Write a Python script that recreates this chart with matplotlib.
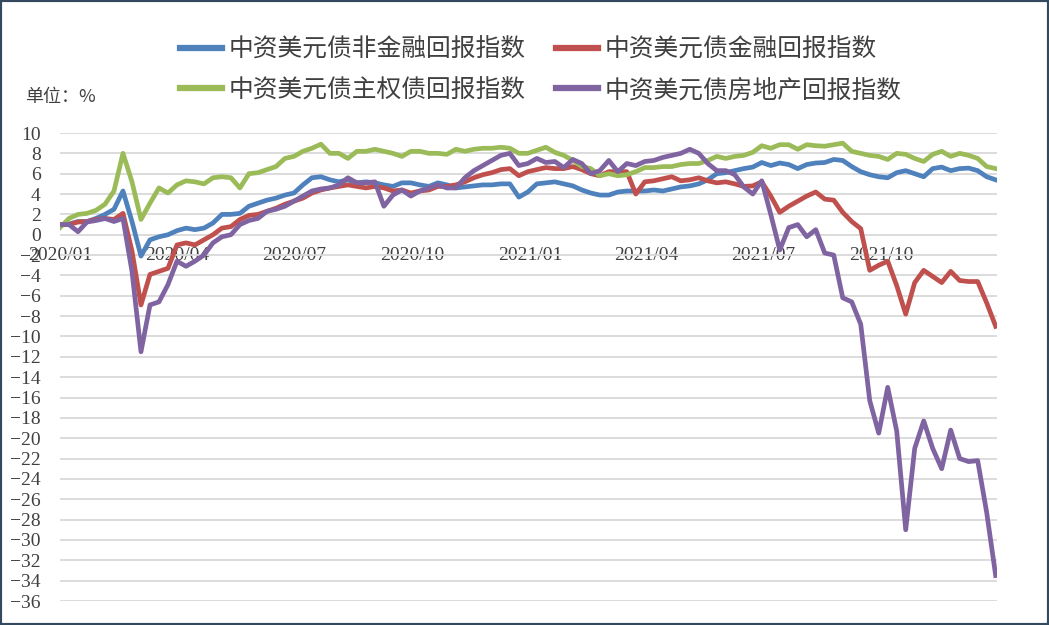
import matplotlib
matplotlib.use('agg')
import matplotlib.pyplot as plt
import matplotlib.dates as mdates
from matplotlib.patches import Rectangle
import pandas as pd

# weekly samples
dates = pd.date_range('2020-01-01', periods=105, freq='7D')

non_fin = [1.0, 1.05, 1.3, 1.3, 1.6, 2.0, 2.5, 4.3, 1.3, -2.1, -0.5, -0.2, 0.0, 0.4, 0.65, 0.5, 0.65, 1.15, 2.0, 2.0, 2.1, 2.8,
           3.1, 3.4, 3.6, 3.9, 4.1, 4.9, 5.6, 5.7, 5.4, 5.2, 5.4, 5.1, 5.2, 5.1, 4.9, 4.75, 5.1, 5.1, 4.9, 4.75, 5.1, 4.9, 4.6, 4.7, 4.8, 4.9, 4.9,
           5.0, 5.0, 3.7, 4.2, 5.0, 5.1, 5.2, 5.0, 4.8, 4.4, 4.1, 3.9, 3.9, 4.2, 4.3, 4.3, 4.3, 4.4, 4.3, 4.5, 4.7, 4.8, 5.0, 5.4, 6.0, 6.1, 6.3,
           6.5, 6.65, 7.1, 6.8, 7.05, 6.9, 6.5, 6.9, 7.05, 7.1, 7.4, 7.3, 6.7, 6.2, 5.9, 5.7, 5.6, 6.1, 6.3, 6.0, 5.7, 6.5, 6.65, 6.3, 6.5, 6.55, 6.3, 5.7, 5.4]

fin = [1.0, 1.0, 1.25, 1.3, 1.5, 1.6, 1.5, 2.1, -1.6, -6.9, -3.9, -3.6, -3.3, -1.0, -0.8, -1.0, -0.5, 0.0, 0.65, 0.8, 1.5, 1.9,
       2.0, 2.3, 2.6, 3.0, 3.3, 3.6, 4.1, 4.4, 4.6, 4.75, 4.9, 4.75, 4.6, 4.75, 4.6, 4.3, 4.4, 4.1, 4.3, 4.4, 4.75, 4.75, 4.9, 5.2, 5.6, 5.9, 6.1,
       6.4, 6.5, 5.8, 6.2, 6.4, 6.6, 6.5, 6.5, 6.7, 6.4, 6.0, 5.8, 6.2, 6.2, 6.2, 4.0, 5.2, 5.3, 5.5, 5.7, 5.3, 5.4, 5.6, 5.3, 5.1, 5.2, 5.0,
       4.75, 4.8, 5.2, 3.8, 2.2, 2.8, 3.3, 3.8, 4.2, 3.5, 3.4, 2.2, 1.3, 0.6, -3.5, -3.0, -2.6, -5.0, -7.8, -4.7, -3.5, -4.1, -4.7, -3.6, -4.5, -4.6, -4.6, -6.7, -9.0]

sovereign = [0.7, 1.6, 2.0, 2.1, 2.4, 3.0, 4.3, 8.0, 5.2, 1.5, 3.1, 4.6, 4.1, 4.9, 5.3, 5.2, 5.0, 5.6, 5.7, 5.6, 4.6, 6.0,
             6.1, 6.4, 6.7, 7.5, 7.7, 8.2, 8.5, 8.9, 8.0, 8.0, 7.5, 8.2, 8.2, 8.4, 8.2, 8.0, 7.7, 8.2, 8.2, 8.0, 8.0, 7.9, 8.4, 8.2, 8.4, 8.5, 8.5,
             8.6, 8.5, 8.0, 8.0, 8.3, 8.6, 8.1, 7.8, 7.3, 6.7, 6.5, 5.8, 6.0, 5.8, 5.9, 6.2, 6.6, 6.6, 6.7, 6.7, 6.9, 7.0, 7.0, 7.3, 7.7, 7.5, 7.7,
             7.8, 8.1, 8.75, 8.5, 8.85, 8.85, 8.4, 8.85, 8.75, 8.7, 8.85, 9.0, 8.2, 8.0, 7.8, 7.7, 7.4, 8.0, 7.9, 7.5, 7.2, 7.9, 8.2, 7.7, 8.0, 7.8, 7.5, 6.7, 6.5]

property_ = [1.0, 1.0, 0.3, 1.25, 1.4, 1.6, 1.3, 1.6, -3.6, -11.5, -6.9, -6.6, -4.9, -2.6, -3.1, -2.6, -2.0, -0.8, -0.2, 0.0, 1.0, 1.4,
             1.6, 2.3, 2.5, 2.8, 3.3, 3.8, 4.3, 4.5, 4.6, 4.9, 5.6, 5.1, 5.1, 5.2, 2.8, 3.9, 4.4, 3.8, 4.3, 4.6, 4.9, 4.6, 4.6, 5.6, 6.3, 6.8, 7.3,
             7.8, 8.0, 6.8, 7.0, 7.5, 7.1, 7.2, 6.6, 7.4, 7.0, 6.0, 6.3, 7.3, 6.2, 7.0, 6.8, 7.2, 7.3, 7.6, 7.8, 8.0, 8.4, 8.0, 7.0, 6.3, 6.3, 5.9,
             4.7, 4.0, 5.3, 2.0, -1.5, 0.7, 1.0, -0.2, 0.5, -1.8, -2.0, -6.2, -6.6, -8.8, -16.3, -19.5, -15.0, -19.3, -29.0, -21.0, -18.3, -21.0, -23.0, -19.2, -22.0, -22.3, -22.2, -27.3, -33.5]

names = ['中资美元债非金融回报指数', '中资美元债金融回报指数', '中资美元债主权债回报指数', '中资美元债房地产回报指数']
colors = ['#4f81bd', '#c0504d', '#9bbb59', '#8064a2']
yticks = list(range(-36, 11, 2))

fig = plt.figure(figsize=(10.49, 6.25), dpi=100)
ax = fig.add_axes([0.0572, 0.0384, 0.8932, 0.7488])

lines = []
for vals, name, c in zip([non_fin, fin, sovereign, property_], names, colors):
    l, = ax.plot(dates, vals, color=c, lw=3.4, label=name, solid_joinstyle='round')
    lines.append(l)

ax.set_ylim(-36, 10)
ax.set_xlim(pd.Timestamp('2020-01-01'), pd.Timestamp('2021-12-30'))
ax.set_yticks(yticks)
ax.xaxis.set_major_locator(mdates.MonthLocator(bymonth=[1, 4, 7, 10]))
ax.xaxis.set_major_formatter(mdates.DateFormatter('%Y/%m'))
ax.grid(axis='y', color='#d9d9d9', lw=1.3)
ax.set_axisbelow(True)
for s in ['top', 'right', 'left']:
    ax.spines[s].set_visible(False)
ax.spines['bottom'].set_position(('data', 0))
ax.spines['bottom'].set_visible(False)
ax.tick_params(axis='both', length=0, labelsize=14, labelcolor='#404040')
ax.tick_params(axis='y', pad=14)
ax.tick_params(axis='x', pad=9)
for lab in ax.get_xticklabels() + ax.get_yticklabels():
    lab.set_fontfamily('Liberation Serif')

# legend fills by column: put items so rows read blue/red, green/purple
order = [0, 2, 1, 3]
leg = fig.legend([lines[i] for i in order], [names[i] for i in order],
                 loc='lower left', bbox_to_anchor=(0.1716, 0.835), ncol=2, frameon=False,
                 prop={'family': ['Noto Sans CJK SC', 'DejaVu Sans'], 'size': 17.8},
                 handlelength=1.7, handletextpad=0.28, columnspacing=1.2, labelspacing=0.6,
                 borderaxespad=0, borderpad=0)
for t in leg.get_texts():
    t.set_color('#404040')
for h in leg.get_lines():
    h.set_linewidth(4.5)

fig.text(0.024, 0.845, '单位：%', fontsize=13, color='#404040',
         family=['Noto Sans CJK SC', 'DejaVu Sans'], va='center')

fig.patches.append(Rectangle((0, 0), 1, 1, transform=fig.transFigure, fill=False,
                             edgecolor='#34495e', lw=3, zorder=10))

fig.savefig('out.png', dpi=100)
